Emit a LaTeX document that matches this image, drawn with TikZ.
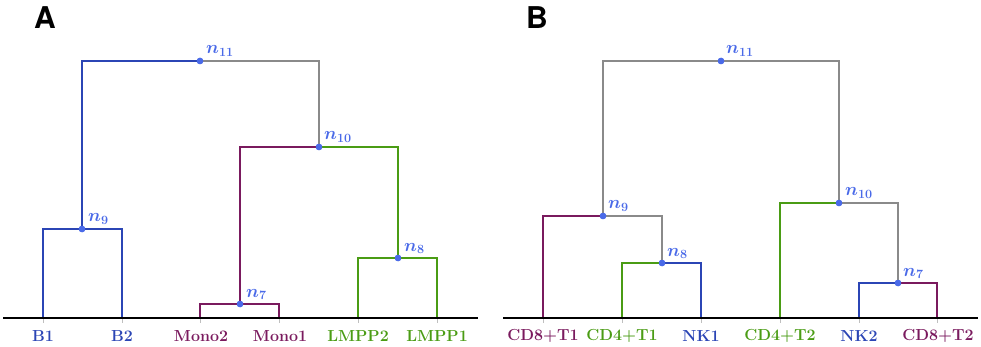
\RequirePackage{fix-cm}
\documentclass[tikz,border=0pt]{standalone}
\usepackage{fontspec}
\newfontfamily\heros{TeX Gyre Heros}
\definecolor{cblue}{HTML}{2B45B5}
\definecolor{cpurple}{HTML}{7A1A5E}
\definecolor{cgreen}{HTML}{4A9C14}
\definecolor{cgray}{HTML}{8A8A8A}
\definecolor{cdot}{HTML}{4A6AE8}
\tikzset{
  br/.style={line width=2.2pt},
  bluebr/.style={br,draw=cblue},
  purplebr/.style={br,draw=cpurple},
  greenbr/.style={br,draw=cgreen},
  graybr/.style={br,draw=cgray},
  base/.style={line width=2.6pt,draw=black},
  dot/.style={circle,fill=cdot,inner sep=0pt,minimum size=6.5pt},
  nlab/.style={anchor=base west,inner sep=0pt,text=cdot,font=\fontsize{18}{20}\selectfont\boldmath},
  leaflab/.style={anchor=center,inner sep=0pt,font=\fontsize{16}{19}\selectfont\bfseries},
  panel/.style={anchor=center,inner sep=0pt,font=\fontsize{30}{34}\selectfont\heros\bfseries},
  tick/.style={line width=0.6pt,draw=black!25}
}
\begin{document}
\begin{tikzpicture}[x=1pt,y=-1pt]
\useasboundingbox (0,0) rectangle (981,347);
% ---------- Panel A ----------
\node[panel] (A) at (45,18) {A};
\coordinate (a0) at (3,318);
\coordinate (a7) at (478,318);
\coordinate (aB1) at (43,318);
\coordinate (aB2) at (122,318);
\coordinate (aM2) at (200,318);
\coordinate (aM1) at (279,318);
\coordinate (aL2) at (358,318);
\coordinate (aL1) at (437,318);
\node[dot] (an9) at (82,229) {};
\node[dot] (an11) at (200,61) {};
\node[dot] (an10) at (319,147) {};
\node[dot] (an7) at (240,304) {};
\node[dot] (an8) at (398,258) {};
\draw[bluebr] (aB1) |- (an9.center) -| (aB2);
\draw[bluebr] (an9.center) |- (an11.center);
\draw[graybr] (an11.center) -| (an10.center);
\draw[purplebr] (an10.center) -| (an7.center);
\draw[purplebr] (aM2) |- (an7.center) -| (aM1);
\draw[greenbr] (an10.center) -| (an8.center);
\draw[greenbr] (aL2) |- (an8.center) -| (aL1);
\foreach \c in {aB1,aB2,aM2,aM1,aL2,aL1}{\draw[tick] (\c) -- ++(0,5);}
\draw[base] (a0) -- (a7);
\node[dot] at (an9) {};\node[dot] at (an11) {};\node[dot] at (an10) {};\node[dot] at (an7) {};\node[dot] at (an8) {};
\node[nlab] (an11l) at (206,54) {$n_{11}$};
\node[nlab] (an10l) at (324,140) {$n_{10}$};
\node[nlab] (an9l) at (88,222) {$n_{9}$};
\node[nlab] (an8l) at (404,251) {$n_{8}$};
\node[nlab] (an7l) at (246,297) {$n_{7}$};
\node[leaflab,text=cblue] (lB1) at (43,336) {B1};
\node[leaflab,text=cblue] (lB2) at (122,336) {B2};
\node[leaflab,text=cpurple] (lM2) at (201,336) {Mono2};
\node[leaflab,text=cpurple] (lM1) at (280,336) {Mono1};
\node[leaflab,text=cgreen] (lL2) at (358,336) {LMPP2};
\node[leaflab,text=cgreen] (lL1) at (437,336) {LMPP1};
% ---------- Panel B ----------
\node[panel] (B) at (537,18) {B};
\coordinate (b0) at (503,318);
\coordinate (b7) at (978,318);
\coordinate (bC1) at (543,318);
\coordinate (bD1) at (622,318);
\coordinate (bK1) at (701,318);
\coordinate (bD2) at (780,318);
\coordinate (bK2) at (859,318);
\coordinate (bC2) at (937,318);
\node[dot] (bn11) at (721,61) {};
\node[dot] (bn9) at (603,216) {};
\node[dot] (bn8) at (662,263) {};
\node[dot] (bn10) at (839,203) {};
\node[dot] (bn7) at (898,283) {};
\draw[graybr] (bn9.center) |- (bn11.center) -| (bn10.center);
\draw[purplebr] (bn9.center) -| (bC1);
\draw[graybr] (bn9.center) -| (bn8.center);
\draw[greenbr] (bn8.center) -| (bD1);
\draw[bluebr] (bn8.center) -| (bK1);
\draw[greenbr] (bn10.center) -| (bD2);
\draw[graybr] (bn10.center) -| (bn7.center);
\draw[bluebr] (bn7.center) -| (bK2);
\draw[purplebr] (bn7.center) -| (bC2);
\foreach \c in {bC1,bD1,bK1,bD2,bK2,bC2}{\draw[tick] (\c) -- ++(0,5);}
\draw[base] (b0) -- (b7);
\node[dot] at (bn11) {};\node[dot] at (bn9) {};\node[dot] at (bn8) {};\node[dot] at (bn10) {};\node[dot] at (bn7) {};
\node[nlab] (bn11l) at (726,54) {$n_{11}$};
\node[nlab] (bn10l) at (845,196) {$n_{10}$};
\node[nlab] (bn9l) at (608,209) {$n_{9}$};
\node[nlab] (bn8l) at (667,256) {$n_{8}$};
\node[nlab] (bn7l) at (903,276) {$n_{7}$};
\node[leaflab,text=cpurple] (lC1) at (543,336) {CD8+T1};
\node[leaflab,text=cgreen] (lD1) at (622,336) {CD4+T1};
\node[leaflab,text=cblue] (lK1) at (701,336) {NK1};
\node[leaflab,text=cgreen] (lD2) at (780,336) {CD4+T2};
\node[leaflab,text=cblue] (lK2) at (859,336) {NK2};
\node[leaflab,text=cpurple] (lC2) at (938,336) {CD8+T2};
\end{tikzpicture}
\end{document}
